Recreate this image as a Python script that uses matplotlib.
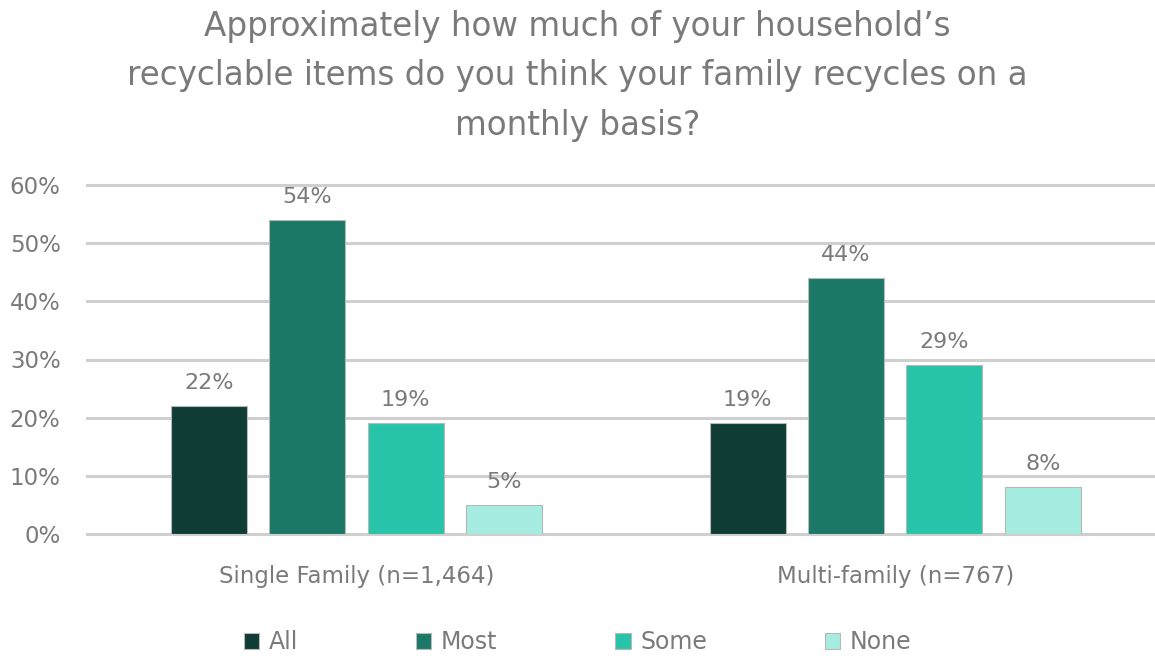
import matplotlib.pyplot as plt
import numpy as np

plt.rcParams['font.family'] = ['DejaVu Sans']

categories = ["Single Family (n=1,464)", "Multi-family (n=767)"]
series = ["All", "Most", "Some", "None"]
values = {
    "All": [22, 19],
    "Most": [54, 44],
    "Some": [19, 29],
    "None": [5, 8],
}
colors = ["#0f3c35", "#1b7867", "#27c4aa", "#a6ece0"]
title = ("Approximately how much of your household\u2019s\n"
         "recyclable items do you think your family recycles on a\n"
         "monthly basis?")

text_color = "#7a7a7a"

fig = plt.figure(figsize=(11.55, 6.56), dpi=100)
ax = fig.add_axes([87 / 1155, 1 - 534 / 656, (1155 - 87) / 1155, (534 - 185) / 656])

x = np.arange(len(categories))
width = 0.141
pitch = 0.1825
for i, (name, col) in enumerate(zip(series, colors)):
    offs = (i - 1.5) * pitch
    bars = ax.bar(x + offs, values[name], width, color=col, label=name,
                  edgecolor="#b8b8b8", linewidth=0.8, zorder=3)
    for b, v in zip(bars, values[name]):
        ax.text(b.get_x() + b.get_width() / 2, v + 2.3, f"{v}%",
                ha="center", va="bottom", fontsize=16, color=text_color, zorder=4)

ax.set_ylim(0, 60)
ax.set_xlim(-0.5, 1.482)
ax.set_yticks(np.arange(0, 61, 10))
ax.set_yticklabels([f"{t}%" for t in range(0, 61, 10)], fontsize=16.5, color=text_color)
ax.set_xticks(x)
ax.set_xticklabels(categories, fontsize=16.5, color=text_color)
ax.tick_params(axis="both", length=0)
ax.tick_params(axis="y", pad=19)
ax.tick_params(axis="x", pad=22)
ax.yaxis.grid(True, color="#cfcfcf", linewidth=2.2, zorder=0)
for gl in ax.get_ygridlines():
    gl.set_clip_on(False)
ax.set_axisbelow(True)
for s in ax.spines.values():
    s.set_visible(False)

fig.text(0.5, 1 - 76 / 656, title, ha="center", va="center", fontsize=23.5,
         color=text_color, linespacing=1.65)

leg = fig.legend(loc="center", bbox_to_anchor=(0.5, 1 - 642 / 656), ncol=4,
                 frameon=False, fontsize=17, handlelength=0.65, handleheight=0.65,
                 handletextpad=0.4, columnspacing=5.0, labelcolor=text_color)

fig.savefig("out.png", dpi=100, facecolor="white")
